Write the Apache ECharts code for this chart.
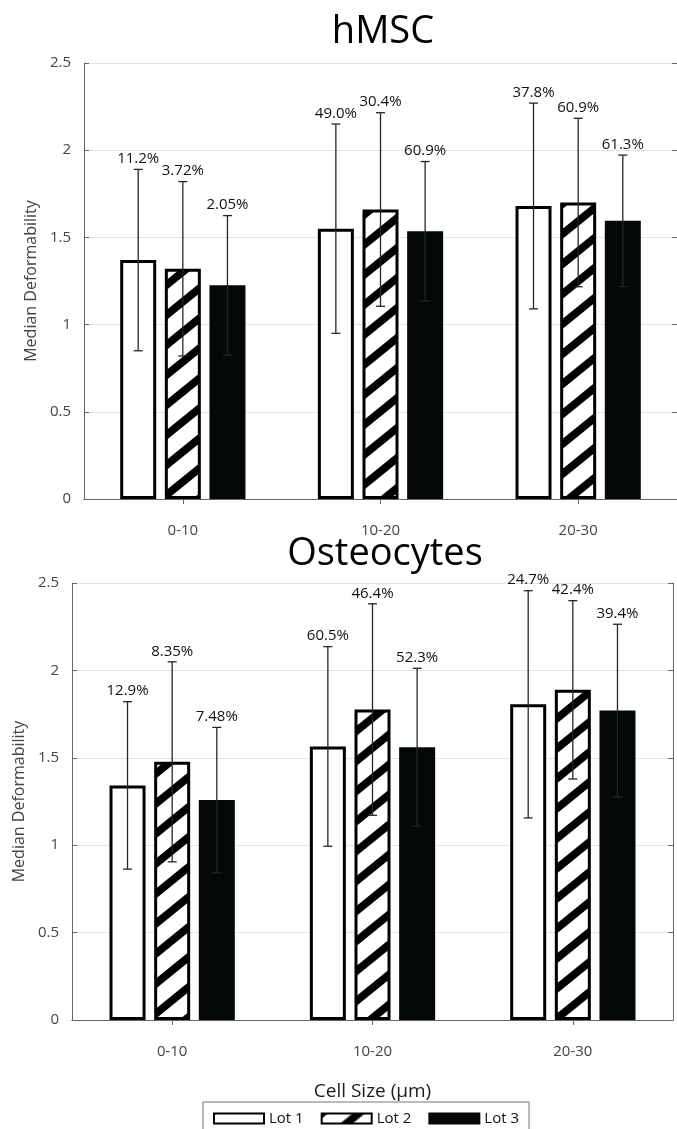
<!DOCTYPE html>
<html>
<head>
<meta charset="utf-8">
<script src="https://cdn.jsdelivr.net/npm/echarts@6/dist/echarts.min.js"></script>
<style>
  html, body { margin: 0; padding: 0; background: #ffffff; }
  #chart { width: 677px; height: 1129px; }
</style>
</head>
<body>
<div id="chart"></div>
<script>
// Cell size bins (µm) and lot names
const categories = ['0-10', '10-20', '20-30'];
const lotNames = ['Lot 1', 'Lot 2', 'Lot 3'];

// Value axis range
const yMin = 0;
const yMax = 2.5;
const yStep = 0.5;

// hMSC: median deformability, error half-widths and percentage labels per lot
const hmscLot1 = [1.37, 1.55, 1.68];
const hmscLot2 = [1.32, 1.66, 1.70];
const hmscLot3 = [1.225, 1.535, 1.595];
const hmscLot1Err = [0.52, 0.60, 0.59];
const hmscLot2Err = [0.50, 0.555, 0.483];
const hmscLot3Err = [0.40, 0.40, 0.377];
const hmscLot1Pct = ['11.2%', '49.0%', '37.8%'];
const hmscLot2Pct = ['3.72%', '30.4%', '60.9%'];
const hmscLot3Pct = ['2.05%', '60.9%', '61.3%'];

// Osteocytes
const osteoLot1 = [1.342, 1.565, 1.806];
const osteoLot2 = [1.477, 1.776, 1.889];
const osteoLot3 = [1.258, 1.561, 1.77];
const osteoLot1Err = [0.479, 0.571, 0.65];
const osteoLot2Err = [0.572, 0.605, 0.51];
const osteoLot3Err = [0.416, 0.451, 0.494];
const osteoLot1Pct = ['12.9%', '60.5%', '24.7%'];
const osteoLot2Pct = ['8.35%', '46.4%', '42.4%'];
const osteoLot3Pct = ['7.48%', '52.3%', '39.4%'];

const FONT = '"Open Sans", "Noto Sans", sans-serif';
const BAR_W = 36;
const BAR_GAP = 0.24;
const BAR_STEP = BAR_W * (1 + BAR_GAP);
const AXIS_GRAY = '#666666';

// Diagonal "/" hatch used for Lot 2
function hatchCanvas() {
  const W = 37, H = 30;
  const c = document.createElement('canvas');
  c.width = W; c.height = H;
  const ctx = c.getContext('2d');
  ctx.fillStyle = '#ffffff';
  ctx.fillRect(0, 0, W, H);
  ctx.strokeStyle = '#000000';
  ctx.lineWidth = 7.8;
  for (let k = 0; k <= 2; k++) {
    ctx.beginPath();
    ctx.moveTo(k * W + W, -H);
    ctx.lineTo(k * W - 2 * W, 2 * H);
    ctx.stroke();
  }
  return c;
}
const hatch = hatchCanvas();

const lotStyles = [
  { color: '#ffffff', borderColor: '#000000', borderWidth: 3 },
  { color: { image: hatch, repeat: 'repeat' }, borderColor: '#000000', borderWidth: 3 },
  { color: '#050808', borderColor: '#050808', borderWidth: 3 }
];

function barSeries(gridIdx, lotIdx, values) {
  return {
    type: 'bar',
    name: lotNames[lotIdx],
    xAxisIndex: gridIdx * 2,
    yAxisIndex: gridIdx * 2,
    data: values,
    barWidth: BAR_W,
    barGap: (BAR_GAP * 100) + '%',
    itemStyle: lotStyles[lotIdx],
    emphasis: { disabled: true },
    z: 2
  };
}

function errorSeries(gridIdx, lotIdx, values, errs, pcts) {
  return {
    type: 'custom',
    name: lotNames[lotIdx] + ' spread',
    xAxisIndex: gridIdx * 2,
    yAxisIndex: gridIdx * 2,
    z: 5,
    silent: true,
    data: values.map((v, i) => [i, v, errs[i]]),
    renderItem: function (params, api) {
      const ci = api.value(0), m = api.value(1), e = api.value(2);
      const off = (lotIdx - 1) * BAR_STEP;
      const top = api.coord([ci, m + e]);
      const bot = api.coord([ci, m - e]);
      const x = top[0] + off;
      const cap = 4.5;
      const st = { stroke: '#262626', lineWidth: 1.3 };
      return {
        type: 'group',
        children: [
          { type: 'line', shape: { x1: x, y1: top[1], x2: x, y2: bot[1] }, style: st },
          { type: 'line', shape: { x1: x - cap, y1: top[1], x2: x + cap, y2: top[1] }, style: st },
          { type: 'line', shape: { x1: x - cap, y1: bot[1], x2: x + cap, y2: bot[1] }, style: st },
          {
            type: 'text', x: x, y: top[1] - 3,
            style: {
              text: pcts[params.dataIndex], fill: '#111111',
              font: '15px ' + FONT, textAlign: 'center', textVerticalAlign: 'bottom'
            }
          }
        ]
      };
    }
  };
}

function axesFor(gridIdx, withName) {
  const xBottom = {
    type: 'category', gridIndex: gridIdx, data: categories, position: 'bottom',
    axisLine: { show: true, lineStyle: { color: AXIS_GRAY, width: 1 } },
    axisTick: { show: true, inside: true, alignWithLabel: true, length: 5, lineStyle: { color: AXIS_GRAY } },
    axisLabel: { color: '#444444', fontSize: 15, fontFamily: FONT, margin: 24 },
    splitLine: { show: false }
  };
  if (withName) {
    xBottom.name = 'Cell Size (\u03bcm)';
    xBottom.nameLocation = 'middle';
    xBottom.nameGap = 62;
    xBottom.nameTextStyle = { color: '#1a1a1a', fontSize: 19, fontFamily: FONT };
  }
  const xTop = {
    type: 'category', gridIndex: gridIdx, data: categories, position: 'top',
    axisLine: { show: true, lineStyle: { color: AXIS_GRAY, width: 1 } },
    axisTick: { show: true, inside: true, alignWithLabel: true, length: 5, lineStyle: { color: AXIS_GRAY } },
    axisLabel: { show: false },
    splitLine: { show: false }
  };
  const yLeft = {
    type: 'value', gridIndex: gridIdx, min: yMin, max: yMax, interval: yStep, position: 'left',
    name: 'Median Deformability', nameLocation: 'middle', nameGap: 42,
    nameTextStyle: { color: '#444444', fontSize: 16, fontFamily: FONT },
    axisLine: { show: true, lineStyle: { color: AXIS_GRAY, width: 1 } },
    axisTick: { show: true, inside: true, length: 5, lineStyle: { color: AXIS_GRAY } },
    axisLabel: { color: '#444444', fontSize: 15, fontFamily: FONT, margin: 13 },
    splitLine: { show: true, lineStyle: { color: '#e3e3e3', width: 1 } }
  };
  const yRight = {
    type: 'value', gridIndex: gridIdx, min: yMin, max: yMax, interval: yStep, position: 'right',
    axisLine: { show: true, lineStyle: { color: AXIS_GRAY, width: 1 } },
    axisTick: { show: true, inside: true, length: 5, lineStyle: { color: AXIS_GRAY } },
    axisLabel: { show: false },
    splitLine: { show: false }
  };
  return { x: [xBottom, xTop], y: [yLeft, yRight] };
}

const a0 = axesFor(0, false);
const a1 = axesFor(1, true);

const option = {
  backgroundColor: '#ffffff',
  animation: false,
  textStyle: { fontFamily: FONT },
  grid: [
    { left: 84, top: 63, width: 602, height: 436 },
    { left: 72, top: 583, width: 601, height: 437 }
  ],
  xAxis: [a0.x[0], a0.x[1], a1.x[0], a1.x[1]],
  yAxis: [a0.y[0], a0.y[1], a1.y[0], a1.y[1]],
  legend: {
    data: lotNames,
    left: 203, top: 1102,
    icon: 'rect',
    itemWidth: 50, itemHeight: 10,
    itemGap: 17,
    padding: [9, 10, 9, 10],
    borderColor: '#777777', borderWidth: 1,
    textStyle: { color: '#111111', fontSize: 15, fontFamily: FONT },
    selectedMode: false
  },
  graphic: [
    { type: 'text', x: 383, y: 32, style: { text: 'hMSC', font: '38px ' + FONT, fill: '#000000', textAlign: 'center', textVerticalAlign: 'middle' } },
    { type: 'text', x: 385, y: 554, style: { text: 'Osteocytes', font: '38px ' + FONT, fill: '#000000', textAlign: 'center', textVerticalAlign: 'middle' } }
  ],
  series: [
    barSeries(0, 0, hmscLot1), barSeries(0, 1, hmscLot2), barSeries(0, 2, hmscLot3),
    barSeries(1, 0, osteoLot1), barSeries(1, 1, osteoLot2), barSeries(1, 2, osteoLot3),
    errorSeries(0, 0, hmscLot1, hmscLot1Err, hmscLot1Pct),
    errorSeries(0, 1, hmscLot2, hmscLot2Err, hmscLot2Pct),
    errorSeries(0, 2, hmscLot3, hmscLot3Err, hmscLot3Pct),
    errorSeries(1, 0, osteoLot1, osteoLot1Err, osteoLot1Pct),
    errorSeries(1, 1, osteoLot2, osteoLot2Err, osteoLot2Pct),
    errorSeries(1, 2, osteoLot3, osteoLot3Err, osteoLot3Pct)
  ]
};

const chart = echarts.init(document.getElementById('chart'), null, { renderer: 'canvas' });
chart.setOption(option);
</script>
</body>
</html>
